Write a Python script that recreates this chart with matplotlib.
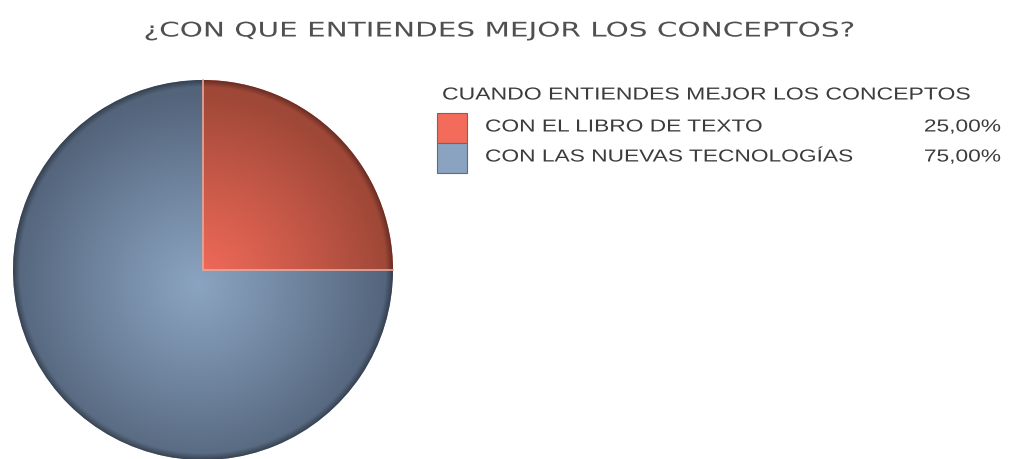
import numpy as np
import matplotlib
matplotlib.use('Agg')
import matplotlib.pyplot as plt
from matplotlib.patches import Rectangle, Circle
from matplotlib.patheffects import AbstractPathEffect
from matplotlib.transforms import Affine2D

titulo = "¿CON QUE ENTIENDES MEJOR LOS CONCEPTOS?"
titulo_leyenda = "CUANDO ENTIENDES MEJOR LOS CONCEPTOS"
etiquetas = ["CON EL LIBRO DE TEXTO", "CON LAS NUEVAS TECNOLOGÍAS"]
valores = [25.0, 75.0]
colores_claros = ["#f36b5a", "#8aa3c0"]
colores_oscuros = ["#a04838", "#53647b"]


class Estirar(AbstractPathEffect):
    # ensancha el texto en horizontal alrededor de x0 (pixeles)
    def __init__(self, sx, x0):
        super().__init__()
        self.sx = sx
        self.x0 = x0

    def draw_path(self, renderer, gc, tpath, affine, rgbFace=None):
        t = affine + Affine2D().translate(-self.x0, 0).scale(self.sx, 1).translate(self.x0, 0)
        renderer.draw_path(gc, tpath, t, rgbFace)


def texto_ancho(ax, x, y, s, ancho, ha='left', **kw):
    t = ax.text(x, y, s, ha=ha, va='center', **kw)
    rend = ax.figure.canvas.get_renderer()
    w = t.get_window_extent(rend).width
    t.set_path_effects([Estirar(ancho / w, x)])
    return t


def mezcla(c1, c2, t):
    a = np.array(matplotlib.colors.to_rgb(c1))
    b = np.array(matplotlib.colors.to_rgb(c2))
    return a[None, None, :] * (1 - t[..., None]) + b[None, None, :] * t[..., None]


fig = plt.figure(figsize=(10.09, 4.59), dpi=100)
ax = fig.add_axes([0, 0, 1, 1])

cx, cy, r = 203, 459 - 270, 190
cuñas, _ = ax.pie(valores, startangle=90, counterclock=False,
                  center=(cx, cy), radius=r, colors=colores_claros,
                  wedgeprops=dict(linewidth=0))

# sombreado radial dentro de cada porcion, con borde exterior mas oscuro
n = 500
xs = np.linspace(cx - r, cx + r, n)
ys = np.linspace(cy - r, cy + r, n)
X, Y = np.meshgrid(xs, ys)
d = np.sqrt((X - (cx - 5)) ** 2 + (Y - (cy - 15)) ** 2) / r
t = np.clip(d, 0, 1) ** 1.1
dc = np.sqrt((X - cx) ** 2 + (Y - cy) ** 2) / r
borde = np.clip((dc - 0.965) / 0.035, 0, 1)
for cuña, claro, oscuro in zip(cuñas, colores_claros, colores_oscuros):
    img = mezcla(claro, oscuro, t)
    img = img * (1 - 0.35 * borde[..., None])
    im = ax.imshow(img, extent=(cx - r, cx + r, cy - r, cy + r),
                   origin='lower', interpolation='bilinear', zorder=2)
    im.set_clip_path(cuña)

# borde claro entre porciones
ax.plot([cx, cx, cx + r], [cy + r, cy, cy], color='#f0a596', lw=1.2, zorder=3)

ax.set_xlim(0, 1009)
ax.set_ylim(0, 459)
ax.set_aspect('auto')
ax.axis('off')

texto_ancho(ax, 500, 459 - 31, titulo, 713, ha='center', fontsize=14.5,
            color='#505050', family='DejaVu Sans')

fuente = dict(fontsize=12.5, color='#3c3c3c', family='Liberation Sans')
texto_ancho(ax, 442, 459 - 95, titulo_leyenda, 528, **fuente)
filas_y = [127, 157]
for i, (et, v, c) in enumerate(zip(etiquetas, valores, colores_claros)):
    ax.add_patch(Rectangle((437, 459 - 113 - 30 * (i + 1)), 30, 30, facecolor=c,
                           edgecolor='#6a6a6a', lw=0.8))
    yc = 459 - filas_y[i]
    t1 = ax.text(485, yc, et, ha='left', va='center', **fuente)
    t1.set_path_effects([Estirar(1.31, 485)])
    t2 = ax.text(1001, yc, f"{v:.2f}".replace('.', ',') + '%', ha='right',
                 va='center', **fuente)
    t2.set_path_effects([Estirar(1.31, 1001)])

fig.savefig('out.png', dpi=100)
